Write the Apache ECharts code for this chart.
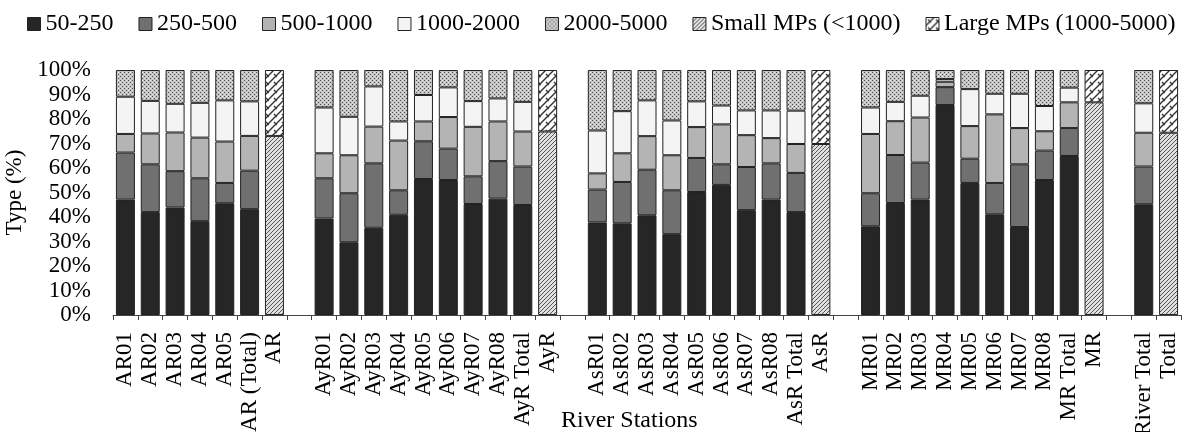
<!DOCTYPE html>
<html>
<head>
<meta charset="utf-8">
<script src="https://cdn.jsdelivr.net/npm/echarts@6/dist/echarts.min.js"></script>
<style>
html,body{margin:0;padding:0;background:#fff;}
#chart{width:1182px;height:432px;}
</style>
</head>
<body>
<div id="chart"></div>
<script>
// ---- data (percent of particles per size class) ----
const categories = [
  'AR01','AR02','AR03','AR04','AR05','AR (Total)','AR','',
  'AyR01','AyR02','AyR03','AyR04','AyR05','AyR06','AyR07','AyR08','AyR Total','AyR','',
  'AsR01','AsR02','AsR03','AsR04','AsR05','AsR06','AsR07','AsR08','AsR Total','AsR','',
  'MR01','MR02','MR03','MR04','MR05','MR06','MR07','MR08','MR Total','MR','',
  'River Total','Total'
];
const seriesNames = ['50-250','250-500','500-1000','1000-2000','2000-5000','Small MPs (<1000)','Large MPs (1000-5000)'];
const N = null;
const s50_250 = [47.1,42.0,43.9,38.3,45.6,43.2,N,N,
  39.4,29.7,35.6,40.9,55.5,55.1,45.3,47.5,44.9,N,N,
  37.8,37.4,40.7,33.0,50.2,53.1,42.8,47.1,42.0,N,N,
  36.2,45.7,47.1,85.7,53.9,41.1,35.9,55.1,64.9,N,N,
  45.2,N];
const s250_500 = [19.2,19.5,14.8,17.5,8.3,15.7,N,N,
  16.4,20.0,26.3,10.0,15.4,12.8,11.3,15.3,15.7,N,N,
  13.4,16.9,18.6,17.9,13.9,8.4,17.6,14.8,16.0,N,N,
  13.5,19.6,15.1,7.3,9.9,12.8,25.6,12.0,11.4,N,N,
  15.4,N];
const s500_1000 = [7.6,12.6,15.8,16.6,16.9,14.2,N,N,
  10.2,15.5,15.0,20.3,8.1,12.9,20.2,16.2,14.3,N,N,
  6.6,11.7,13.7,14.3,12.6,16.3,13.0,10.3,11.8,N,N,
  24.2,13.8,18.4,2.2,13.3,28.0,14.8,7.9,10.5,N,N,
  13.8,N];
const s1000_2000 = [15.2,13.3,11.7,14.2,16.8,14.1,N,N,
  18.7,15.7,16.4,7.8,10.8,12.1,10.5,9.4,12.1,N,N,
  17.5,17.2,14.6,14.2,10.5,7.7,10.1,11.3,13.6,N,N,
  10.8,7.9,8.9,1.1,15.1,8.4,14.0,10.3,6.0,N,N,
  12.0,N];
const s2000_5000 = [10.9,12.6,13.8,13.4,12.4,12.8,N,N,
  15.3,19.1,6.7,21.0,10.2,7.1,12.7,11.6,13.0,N,N,
  24.7,16.8,12.4,20.6,12.8,14.5,16.5,16.5,16.6,N,N,
  15.3,13.0,10.5,3.7,7.8,9.7,9.7,14.7,7.2,N,N,
  13.6,N];
const smallMPs = [N,N,N,N,N,N,73.1,N,
  N,N,N,N,N,N,N,N,N,74.9,N,
  N,N,N,N,N,N,N,N,N,69.8,N,
  N,N,N,N,N,N,N,N,N,86.8,N,
  N,74.4];
const largeMPs = [N,N,N,N,N,N,26.9,N,
  N,N,N,N,N,N,N,N,N,25.1,N,
  N,N,N,N,N,N,N,N,N,30.2,N,
  N,N,N,N,N,N,N,N,N,13.2,N,
  N,25.6];
const yTicks = ['0%','10%','20%','30%','40%','50%','60%','70%','80%','90%','100%'];

// ---- fill patterns ----
function tile(w, h, draw) {
  const c = document.createElement('canvas');
  c.width = w; c.height = h;
  draw(c.getContext('2d'), w, h);
  return {image: c, repeat: 'repeat'};
}
const dotted = tile(4, 4, (g, w, h) => {
  g.fillStyle = '#c4c4c4'; g.fillRect(0, 0, w, h);
  g.fillStyle = '#4a4a4a';
  g.fillRect(0, 0, 1, 1); g.fillRect(2, 2, 1, 1);
  g.fillStyle = '#e8e8e8';
  g.fillRect(2, 0, 1, 1); g.fillRect(0, 2, 1, 1);
});
const hatch = tile(4, 4, (g, w, h) => {
  g.fillStyle = '#e0e0e0'; g.fillRect(0, 0, w, h);
  g.strokeStyle = '#555'; g.lineWidth = 1;
  g.beginPath();
  g.moveTo(-1, 5); g.lineTo(5, -1);
  g.moveTo(-1, 1); g.lineTo(1, -1);
  g.moveTo(3, 5); g.lineTo(5, 3);
  g.stroke();
});
const zigzag = tile(8, 8, (g, w, h) => {
  g.fillStyle = '#ffffff'; g.fillRect(0, 0, w, h);
  g.strokeStyle = '#333'; g.lineWidth = 1.4;
  g.beginPath();
  g.moveTo(-1, 9); g.lineTo(9, -1);
  g.moveTo(-1, 1); g.lineTo(1, -1);
  g.moveTo(7, 9); g.lineTo(9, 7);
  g.moveTo(2, 2); g.lineTo(5, 5);
  g.stroke();
});

const fills = ['#262626', '#707070', '#b4b4b4', '#f4f4f4', dotted, hatch, zigzag];
const values = [s50_250, s250_500, s500_1000, s1000_2000, s2000_5000, smallMPs, largeMPs];

const FONT = 'Liberation Serif';
const chart = echarts.init(document.getElementById('chart'), null, {renderer: 'canvas'});
chart.setOption({
  animation: false,
  backgroundColor: '#fff',
  textStyle: {fontFamily: FONT, color: '#000'},
  title: {
    text: 'River Stations',
    left: 556, top: 404,
    textStyle: {fontFamily: FONT, fontSize: 24, fontWeight: 'normal', color: '#000'}
  },
  legend: {
    left: 27, top: 12, padding: 0,
    width: 1160,
    itemWidth: 13, itemHeight: 13, itemGap: 25,
    icon: 'rect',
    textStyle: {fontFamily: FONT, fontSize: 24, color: '#000'},
    itemStyle: {borderColor: '#222', borderWidth: 1},
    data: seriesNames
  },
  grid: {left: 113, right: 1, top: 70, bottom: 117, containLabel: false, outerBoundsMode: 'none'},
  xAxis: {
    type: 'category',
    data: categories,
    axisLine: {lineStyle: {color: '#444', width: 1}},
    axisTick: {show: true, interval: 0, length: 5, lineStyle: {color: '#444'}},
    axisLabel: {
      interval: 0, rotate: 90, margin: 17,
      fontFamily: FONT, fontSize: 23, color: '#000'
    },
    splitLine: {show: false}
  },
  yAxis: {
    type: 'value', min: 0, max: 100, interval: 10,
    name: 'Type (%)', nameLocation: 'middle', nameGap: 82,
    nameTextStyle: {fontFamily: FONT, fontSize: 23, color: '#000'},
    axisLine: {show: false},
    axisTick: {show: false},
    splitLine: {show: false},
    axisLabel: {
      margin: 22, fontFamily: FONT, fontSize: 23, color: '#000',
      formatter: v => yTicks[Math.round(v / 10)]
    }
  },
  series: seriesNames.map((name, i) => ({
    name: name,
    type: 'bar',
    stack: 'all',
    barWidth: 19,
    data: values[i],
    itemStyle: {color: fills[i], borderColor: '#222', borderWidth: 1}
  }))
});
</script>
</body>
</html>
